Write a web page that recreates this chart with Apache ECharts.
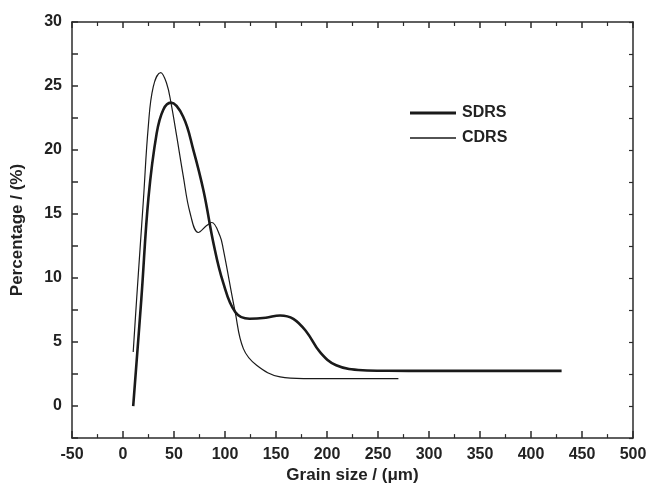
<!DOCTYPE html>
<html>
<head>
<meta charset="utf-8">
<script src="https://cdn.jsdelivr.net/npm/echarts@6/dist/echarts.min.js"></script>
<style>
  html, body { margin: 0; padding: 0; background: #fff; }
  #chart { width: 653px; height: 489px; }
</style>
</head>
<body>
<div id="chart"></div>
<script>
// grain size (um) / percentage pairs
var sdrsX = [10, 18, 25, 33, 39.5, 47, 59, 69, 79, 89, 98, 110, 124, 140, 154, 167, 180, 193, 209, 235, 260, 300, 350, 430];
var sdrsY = [0, 8.4, 16.3, 21.3, 23.15, 23.7, 22.6, 20.0, 16.8, 12.6, 9.7, 7.35, 6.82, 6.9, 7.08, 6.82, 5.79, 4.23, 3.19, 2.8, 2.76, 2.75, 2.75, 2.75];
var cdrsX = [10, 13.4, 16.7, 20, 24.8, 29.7, 37, 42.8, 47, 52.6, 59, 65.7, 73.8, 82, 87, 95, 98.3, 110, 118, 131, 154, 177, 220, 270];
var cdrsY = [4.23, 8.4, 12.26, 16.1, 21.85, 24.96, 26.05, 25.2, 23.7, 21.1, 18.0, 15.1, 13.56, 14.1, 14.34, 13.3, 12.26, 7.34, 4.49, 3.19, 2.28, 2.15, 2.15, 2.15];
var seriesNames = ['SDRS', 'CDRS'];

function pairs(xs, ys) {
  return xs.map(function (x, i) { return [x, ys[i]]; });
}

var axisColor = '#2b2b2b';
var labelFont = { fontFamily: 'Liberation Sans, Arial, sans-serif', fontWeight: 'bold', fontSize: 16, color: '#222' };

function legendFor(name, top, thick) {
  return {
    orient: 'vertical',
    left: 405,
    top: top,
    itemWidth: 46,
    itemHeight: thick,
    data: [{ name: name, icon: 'rect', itemStyle: { color: '#1a1a1a' } }],
    textStyle: Object.assign({}, labelFont, { padding: [0, 0, 0, 1] })
  };
}

var myChart = echarts.init(document.getElementById('chart'));
var option = {
  animation: false,
  backgroundColor: '#fff',
  grid: { left: 72, right: 20, top: 22, bottom: 50, containLabel: false },
  legend: [
    legendFor(seriesNames[0], 100, 3),
    legendFor(seriesNames[1], 125, 1.3)
  ],
  xAxis: [
    {
      type: 'value',
      min: -50, max: 500, interval: 50,
      name: 'Grain size / (\u03bcm)',
      nameLocation: 'middle',
      nameGap: 25,
      nameTextStyle: Object.assign({}, labelFont, { fontSize: 17 }),
      axisLine: { onZero: false, lineStyle: { color: axisColor, width: 1.5 } },
      axisTick: { inside: true, length: 7, lineStyle: { color: axisColor, width: 1.5 } },
      minorTick: { show: true, splitNumber: 2, length: 4, lineStyle: { color: axisColor, width: 1.2 } },
      axisLabel: Object.assign({}, labelFont, { margin: 8 }),
      splitLine: { show: false }
    },
    {
      type: 'value', position: 'top',
      min: -50, max: 500, interval: 50,
      axisLine: { onZero: false, lineStyle: { color: axisColor, width: 1.5 } },
      axisTick: { inside: true, length: 6, lineStyle: { color: axisColor, width: 1.5 } },
      minorTick: { show: true, splitNumber: 2, length: 4, lineStyle: { color: axisColor, width: 1.2 } },
      axisLabel: { show: false },
      splitLine: { show: false }
    }
  ],
  yAxis: [
    {
      type: 'value',
      min: -2.5, max: 30,
      interval: 2.5,
      name: 'Percentage / (%)',
      nameLocation: 'middle',
      nameGap: 46,
      nameTextStyle: Object.assign({}, labelFont, { fontSize: 17 }),
      axisLine: { show: true, onZero: false, lineStyle: { color: axisColor, width: 1.5 } },
      axisTick: { show: true, inside: true, length: 6, lineStyle: { color: axisColor, width: 1.5 } },
      axisLabel: Object.assign({}, labelFont, {
        margin: 10,
        formatter: function (v) { return (v % 5 === 0) ? String(v) : ''; }
      }),
      splitLine: { show: false }
    },
    {
      type: 'value', position: 'right',
      min: -2.5, max: 30, interval: 2.5,
      axisLine: { show: true, onZero: false, lineStyle: { color: axisColor, width: 1.5 } },
      axisTick: { show: true, inside: true, length: 4, lineStyle: { color: axisColor, width: 1.2 } },
      axisLabel: { show: false },
      splitLine: { show: false }
    }
  ],
  series: [
    {
      name: seriesNames[0],
      type: 'line',
      smooth: 0.4,
      showSymbol: false,
      symbol: 'none',
      color: '#1a1a1a',
      lineStyle: { color: '#1a1a1a', width: 2.6 },
      data: pairs(sdrsX, sdrsY)
    },
    {
      name: seriesNames[1],
      type: 'line',
      smooth: 0.4,
      showSymbol: false,
      symbol: 'none',
      color: '#1a1a1a',
      lineStyle: { color: '#1a1a1a', width: 1.2 },
      data: pairs(cdrsX, cdrsY)
    }
  ]
};
myChart.setOption(option);
window.addEventListener('resize', function () { myChart.resize(); });
</script>
</body>
</html>
